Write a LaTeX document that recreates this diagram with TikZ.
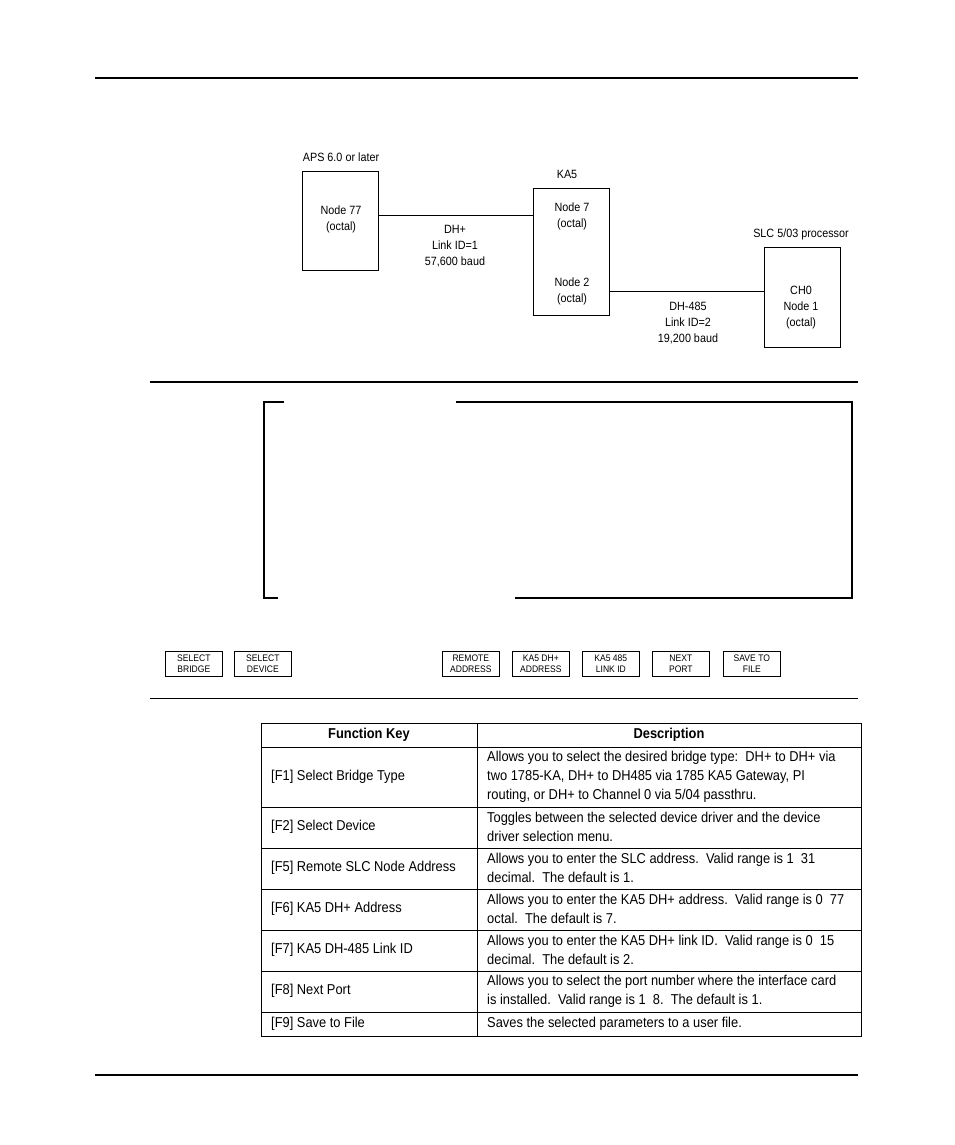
\documentclass[tikz,border=0pt]{standalone}
\usepackage{fontspec}
\setmainfont{Liberation Sans}[FakeStretch=0.9]
\usetikzlibrary{positioning}
\tikzset{
  unit/.style = {draw, line width=0.8pt},
  lbl/.style = {align=center, font=\fontsize{12}{16}\selectfont, inner sep=0pt},
  key/.style = {draw, line width=0.7pt, minimum width=57pt, minimum height=25pt, inner sep=0pt, align=center, font=\fontsize{9.5}{11.5}\selectfont, anchor=north west},
  cell/.style = {align=left, font=\fontsize{14.3}{19}\selectfont, inner sep=0pt, anchor=west},
  rule/.style = {line width=2pt},
  screen/.style = {line width=1.8pt}
}
\begin{document}
\begin{tikzpicture}[x=1pt, y=-1pt]
  \useasboundingbox (0,0) rectangle (954,1145);
  % page rules
  \draw [rule] (95,78) -- (858,78);
  \draw [rule] (150,382) -- (858,382);
  \draw [line width=0.8pt] (150,698) -- (858,698);
  \draw [rule] (95,1075) -- (858,1075);
  % network
  \draw [unit] (302,171) rectangle (378,270);
  \draw [unit] (533,188) rectangle (609,315);
  \draw [unit] (764,247) rectangle (840,347);
  \coordinate (apsE) at (378,215);
  \coordinate (kaW) at (533,215);
  \coordinate (kaE) at (609,291);
  \coordinate (slcW) at (764,291);
  \draw [line width=0.8pt] (apsE) -- (kaW);
  \draw [line width=0.8pt] (kaE) -- (slcW);
  \node (aps) [lbl] at (341,157) {APS 6.0 or later};
  \node (ka5) [lbl] at (567,174) {KA5};
  \node (slc) [lbl] at (801,234) {SLC 5/03 processor};
  \node (n77) [lbl] at (341,219) {Node 77\\(octal)};
  \node (n7) [lbl] at (572,216) {Node 7\\(octal)};
  \node (n2) [lbl] at (572,291) {Node 2\\(octal)};
  \node (ch0) [lbl] at (801,308) {CH0\\Node 1\\(octal)};
  \node (dhp) [lbl] at (455,246) {DH+\\Link ID=1\\57,600 baud};
  \node (dh485) [lbl] at (688,323) {DH-485\\Link ID=2\\19,200 baud};
  % screen
  \draw [screen] (284,402) -- (264,402) -- (264,598) -- (278,598);
  \draw [screen] (456,402) -- (852,402) -- (852,598) -- (515,598);
  % function keys
  \node (f1) [key] at (165,651) {SELECT\\BRIDGE};
  \node (f2) [key] at (234,651) {SELECT\\DEVICE};
  \node (f5) [key] at (442,651) {REMOTE\\ADDRESS};
  \node (f6) [key] at (512,651) {KA5 DH+\\ADDRESS};
  \node (f7) [key] at (582,651) {KA5 485\\LINK ID};
  \node (f8) [key] at (652,651) {NEXT\\PORT};
  \node (f9) [key] at (723,651) {SAVE TO\\FILE};
  % table
  \draw [line width=0.7pt] (261,723) rectangle (861,1036);
  \draw [line width=0.7pt] (477,723) -- (477,1036);
  \foreach \y in {747,807,848,889,930,971,1012}
    \draw [line width=0.7pt] (261,\y) -- (861,\y);
  \node (hkey) [cell, anchor=center, font=\fontsize{14.3}{19}\selectfont\bfseries] at (369,735) {Function Key};
  \node (hdesc) [cell, anchor=center, font=\fontsize{14.3}{19}\selectfont\bfseries] at (669,735) {Description};
  \node (k1) [cell] at (271,777) {[F1] Select Bridge Type};
  \node (d1) [cell] at (487,777) {Allows you to select the desired bridge type:\ \ DH+ to DH+ via\\two 1785-KA, DH+ to DH485 via 1785 KA5 Gateway, PI\\routing, or DH+ to Channel 0 via 5/04 passthru.};
  \node (k2) [cell] at (271,827) {[F2] Select Device};
  \node (d2) [cell] at (487,827) {Toggles between the selected device driver and the device\\driver selection menu.};
  \node (k3) [cell] at (271,868) {[F5] Remote SLC Node Address};
  \node (d3) [cell] at (487,868) {Allows you to enter the SLC address.\ \ Valid range is 1\ \ 31\\decimal.\ \ The default is 1.};
  \node (k4) [cell] at (271,909) {[F6] KA5 DH+ Address};
  \node (d4) [cell] at (487,909) {Allows you to enter the KA5 DH+ address.\ \ Valid range is 0\ \ 77\\octal.\ \ The default is 7.};
  \node (k5) [cell] at (271,950) {[F7] KA5 DH-485 Link ID};
  \node (d5) [cell] at (487,950) {Allows you to enter the KA5 DH+ link ID.\ \ Valid range is 0\ \ 15\\decimal.\ \ The default is 2.};
  \node (k6) [cell] at (271,991) {[F8] Next Port};
  \node (d6) [cell] at (487,991) {Allows you to select the port number where the interface card\\is installed.\ \ Valid range is 1\ \ 8.\ \ The default is 1.};
  \node (k7) [cell] at (271,1024) {[F9] Save to File};
  \node (d7) [cell] at (487,1024) {Saves the selected parameters to a user file.};
\end{tikzpicture}
\end{document}
